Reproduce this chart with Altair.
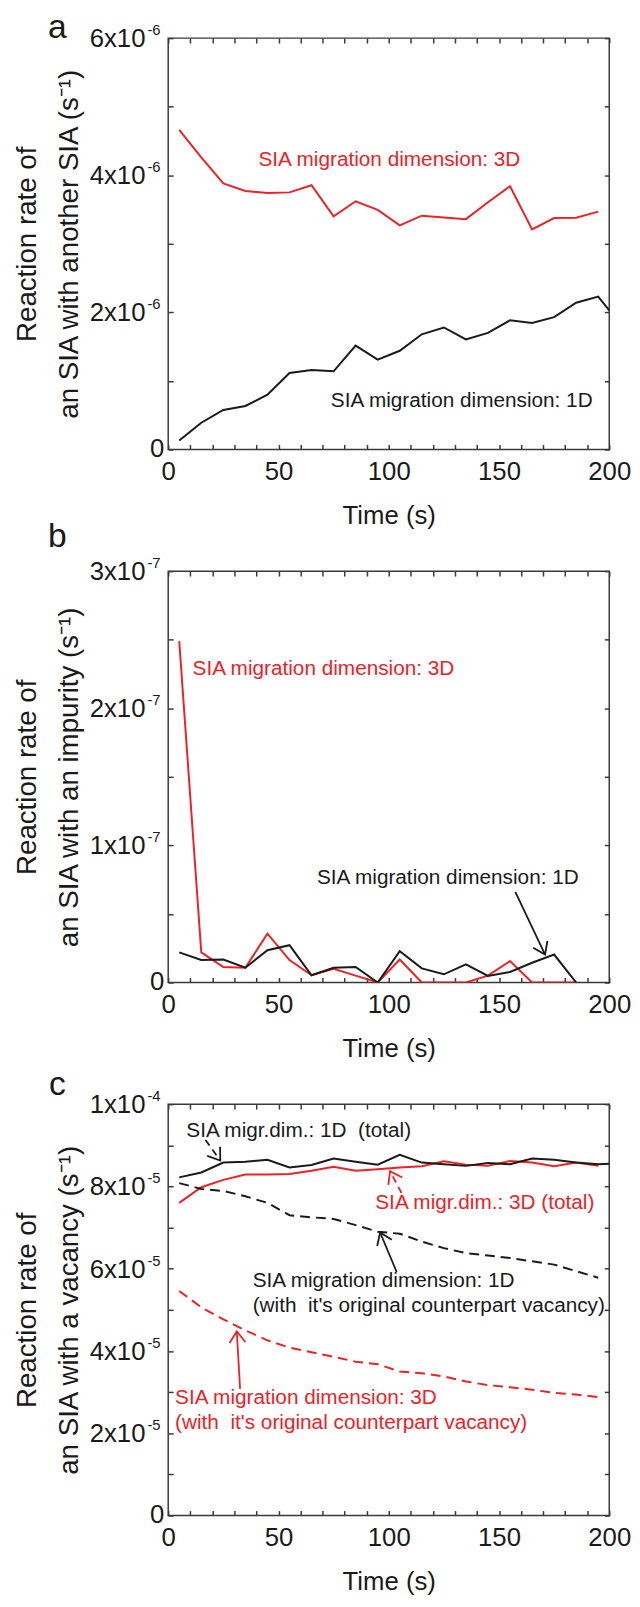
import math
import altair as alt
import pandas as pd

FONT = "Liberation Sans"
RED = "#ec2227"
BLACK = "#1a1a1a"
FRAME = "#3a3a3a"
W, H = 446, 416

TIME = [5, 15, 25, 35, 45, 55, 65, 75, 85, 95, 105, 115, 125, 135, 145, 155, 165, 175, 185, 195]
X_TICKS = list(range(0, 201, 10))

# ---------------- panel a (x 1e-6 s^-1) ----------------
A_UNIT = 1e-6
A_TIME_3D = TIME
A_RATE_3D = [4.66, 4.26, 3.88, 3.77, 3.74, 3.75, 3.855, 3.40, 3.62, 3.495, 3.27, 3.41,
             3.385, 3.36, 3.605, 3.84, 3.21, 3.375, 3.38, 3.47]
A_TIME_1D = TIME + [200]
A_RATE_1D = [0.13, 0.39, 0.577, 0.635, 0.80, 1.115, 1.16, 1.14, 1.515, 1.31, 1.44, 1.68,
             1.78, 1.605, 1.70, 1.885, 1.845, 1.93, 2.14, 2.23, 2.03]
A_YTICKS = [0, 1, 2, 3, 4, 5, 6]
A_YMAJOR = [0, 2, 4, 6]
A_YLAB = ["0", "2x10", "4x10", "6x10"]
A_YEXP = ["", "-6", "-6", "-6"]

# ---------------- panel b (x 1e-7 s^-1) ----------------
B_UNIT = 1e-7
B_TIME = TIME[:19]
B_RATE_3D = [2.49, 0.22, 0.113, 0.108, 0.356, 0.164, 0.053, 0.10, 0.05, 0.0, 0.168, 0.0,
             0.0, 0.0, 0.05, 0.156, 0.0, 0.0, 0.0]
B_RATE_1D = [0.22, 0.164, 0.168, 0.108, 0.236, 0.272, 0.053, 0.108, 0.113, 0.0, 0.229, 0.103,
             0.06, 0.132, 0.048, 0.077, 0.144, 0.204, 0.0]
B_YTICKS = [0, 0.5, 1, 1.5, 2, 2.5, 3]
B_YMAJOR = [0, 1, 2, 3]
B_YLAB = ["0", "1x10", "2x10", "3x10"]
B_YEXP = ["", "-7", "-7", "-7"]

# ---------------- panel c (x 1e-5 s^-1) ----------------
C_UNIT = 1e-5
C_TIME_TOTAL = TIME + [200]
C_RATE_1D_TOTAL = [8.22, 8.34, 8.58, 8.6, 8.65, 8.46, 8.52, 8.68, 8.6, 8.53, 8.77, 8.58,
                   8.54, 8.5, 8.57, 8.54, 8.68, 8.65, 8.58, 8.54, 8.55]
C_RATE_3D_TOTAL = [7.6, 7.98, 8.16, 8.29, 8.29, 8.3, 8.38, 8.48, 8.38, 8.42, 8.46, 8.49,
                   8.61, 8.53, 8.5, 8.62, 8.58, 8.49, 8.58, 8.5]
C_RATE_1D_ORIG = [8.08, 7.94, 7.89, 7.76, 7.6, 7.3, 7.25, 7.21, 7.06, 6.9, 6.85, 6.66,
                  6.5, 6.38, 6.32, 6.26, 6.18, 6.1, 5.94, 5.78]
C_RATE_3D_ORIG = [5.46, 5.06, 4.77, 4.5, 4.26, 4.08, 3.97, 3.86, 3.74, 3.68, 3.5, 3.46,
                  3.38, 3.26, 3.17, 3.12, 3.06, 2.98, 2.94, 2.88]
C_YTICKS = [0, 1, 2, 3, 4, 5, 6, 7, 8, 9, 10]
C_YMAJOR = [0, 2, 4, 6, 8, 10]
C_YLAB = ["0", "2x10", "4x10", "6x10", "8x10", "1x10"]
C_YEXP = ["", "-5", "-5", "-5", "-5", "-4"]

NB = "\u00a0"
HEAD = "M -0.7 1 L 0 0 L 0.7 1"


def axes(ticks_y, unit, ytitle):
    tick = dict(tickSize=5, offset=-5, domain=False, grid=False, tickColor=FRAME, tickWidth=1.5)
    xb = alt.Axis(values=X_TICKS, labelExpr="datum.value % 50 == 0 ? datum.label : ''",
                  format="d", labelFontSize=26, labelFont=FONT, labelColor=BLACK,
                  labelPadding=9, labelFlush=False, labelOverlap=False,
                  title="Time (s)", titleFont=FONT, titleFontSize=26, titleFontWeight="normal",
                  titleColor=BLACK, titleY=80, titleBaseline="alphabetic", **tick)
    xt = alt.Axis(orient="top", values=X_TICKS, labels=False, title=None, **tick)
    yv = [t * unit for t in ticks_y]
    yl = alt.Axis(values=yv, labels=False, title=ytitle, titleFont=FONT, titleFontSize=28,
                  titleFontWeight="normal", titleColor=BLACK, titleAngle=270,
                  titleAlign="center", titleBaseline="middle", titleLineHeight=42,
                  titleX=-147, titleY=H / 2, **tick)
    yr = alt.Axis(orient="right", values=yv, labels=False, title=None, **tick)
    return xb, xt, yl, yr


def line(times, vals, unit, color, xs, ys, xaxis=None, yaxis=None, dash=None):
    df = pd.DataFrame({"t": times, "v": [v * unit for v in vals]})
    kw = dict(color=color, strokeWidth=2, clip=True)
    if dash:
        kw["strokeDash"] = dash
    return alt.Chart(df).mark_line(**kw).encode(
        x=alt.X("t:Q", scale=xs, axis=xaxis), y=alt.Y("v:Q", scale=ys, axis=yaxis))


def note(text, t, v, color, align, xs, ys):
    df = pd.DataFrame({"t": [t], "v": [v], "s": [text]})
    return alt.Chart(df).mark_text(font=FONT, fontSize=21, color=color, align=align,
                                   baseline="alphabetic", lineBreak="\n", lineHeight=25.5).encode(
        x=alt.X("t:Q", scale=xs, axis=None), y=alt.Y("v:Q", scale=ys, axis=None), text="s:N")


def arrow(t0, v0, t1, v1, ymax, color, xs, ys, dashed=False):
    df = pd.DataFrame({"t0": [t0], "v0": [v0], "t1": [t1], "v1": [v1]})
    kw = dict(color=color, strokeWidth=1.8)
    if dashed:
        kw["strokeDash"] = [7, 5]
    shaft = alt.Chart(df).mark_rule(**kw).encode(
        x=alt.X("t0:Q", scale=xs, axis=None), y=alt.Y("v0:Q", scale=ys, axis=None),
        x2="t1:Q", y2="v1:Q")
    dx = (t1 - t0) * W / 200.0
    dy = -(v1 - v0) * H / ymax
    ang = math.degrees(math.atan2(dx, -dy)) % 360
    head = alt.Chart(df).mark_point(shape=HEAD, size=520, filled=False, strokeWidth=1.8,
                                    color=color, opacity=1, angle=ang).encode(
        x=alt.X("t1:Q", scale=xs, axis=None), y=alt.Y("v1:Q", scale=ys, axis=None))
    return [shaft, head]


def ylabels(major, labs, exps, unit, ys):
    df = pd.DataFrame({"v": [m * unit for m in major], "m": labs, "e": exps})
    y = alt.Y("v:Q", scale=ys, axis=None)
    main = alt.Chart(df).transform_filter("datum.e != ''").mark_text(
        font=FONT, fontSize=26, color=BLACK, align="right", baseline="middle", dy=1).encode(
        x=alt.value(-23), y=y, text="m:N")
    zero = alt.Chart(df).transform_filter("datum.e == ''").mark_text(
        font=FONT, fontSize=26, color=BLACK, align="right", baseline="middle", dy=0).encode(
        x=alt.value(-4), y=y, text="m:N")
    sup = alt.Chart(df).transform_filter("datum.e != ''").mark_text(
        font=FONT, fontSize=15, color=BLACK, align="left", baseline="alphabetic", dy=-3).encode(
        x=alt.value(-21), y=y, text="e:N")
    return [main, zero, sup]


def letter(ch, dy):
    df = pd.DataFrame({"s": [ch]})
    return alt.Chart(df).mark_text(font=FONT, fontSize=34, color=BLACK, align="center",
                                   baseline="alphabetic").encode(
        x=alt.value(-112), y=alt.value(dy), text="s:N")


def scales(ymax):
    return (alt.Scale(domain=[0, 200], nice=False, zero=False),
            alt.Scale(domain=[0, ymax], nice=False, zero=True))


# ---------- panel a ----------
ymax = 6 * A_UNIT
xs, ys = scales(ymax)
xb, xt, yl, yr = axes(A_YTICKS, A_UNIT, ["Reaction rate of", "an SIA with another SIA (s\u207b\u00b9)"])
anchor = alt.Chart(pd.DataFrame({"k": [0]})).mark_rule(opacity=0, strokeWidth=0).encode(
    x=alt.value(-161), x2=alt.value(-161), y=alt.value(-20), y2=alt.value(-20))
layers_a = [
    line(A_TIME_3D, A_RATE_3D, A_UNIT, RED, xs, ys, xb, yl),
    line(A_TIME_1D, A_RATE_1D, A_UNIT, BLACK, xs, ys, xt, yr),
    note("SIA migration dimension: 3D", 100.3, 4.14e-6, RED, "center", xs, ys),
    note("SIA migration dimension: 1D", 133.1, 0.62e-6, BLACK, "center", xs, ys),
    *ylabels(A_YMAJOR, A_YLAB, A_YEXP, A_UNIT, ys),
    letter("a", -0.5),
    anchor,
]
panel_a = alt.layer(*layers_a).resolve_axis(x="independent", y="independent").properties(width=W, height=H)

# ---------- panel b ----------
ymax = 3 * B_UNIT
xs, ys = scales(ymax)
xb, xt, yl, yr = axes(B_YTICKS, B_UNIT, ["Reaction rate of", "an SIA with an impurity (s\u207b\u00b9)"])
layers_b = [
    line(B_TIME, B_RATE_3D, B_UNIT, RED, xs, ys, xb, yl),
    line(B_TIME, B_RATE_1D, B_UNIT, BLACK, xs, ys, xt, yr),
    note("SIA migration dimension: 3D", 70.4, 2.24e-7, RED, "center", xs, ys),
    note("SIA migration dimension: 1D", 126.8, 0.716e-7, BLACK, "center", xs, ys),
    *arrow(157.4, 0.661e-7, 170.9, 0.204e-7, ymax, BLACK, xs, ys),
    *ylabels(B_YMAJOR, B_YLAB, B_YEXP, B_UNIT, ys),
    letter("b", -24),
]
panel_b = alt.layer(*layers_b).resolve_axis(x="independent", y="independent").properties(width=W, height=H)

# ---------- panel c ----------
ymax = 10 * C_UNIT
xs, ys = scales(ymax)
xb, xt, yl, yr = axes(C_YTICKS, C_UNIT, ["Reaction rate of", "an SIA with a vacancy (s\u207b\u00b9)"])
layers_c = [
    line(TIME, C_RATE_3D_TOTAL, C_UNIT, RED, xs, ys, xb, yl),
    line(C_TIME_TOTAL, C_RATE_1D_TOTAL, C_UNIT, BLACK, xs, ys, xt, yr),
    line(TIME, C_RATE_1D_ORIG, C_UNIT, BLACK, xs, ys, dash=[10, 6]),
    line(TIME, C_RATE_3D_ORIG, C_UNIT, RED, xs, ys, dash=[10, 6]),
    note("SIA migr.dim.: 1D" + NB + " (total)", 8.2, 9.19e-5, BLACK, "left", xs, ys),
    note("SIA migr.dim.: 3D (total)", 93.9, 7.44e-5, RED, "left", xs, ys),
    note("SIA migration dimension: 1D\n(with" + NB + " it's original counterpart vacancy)",
         38.3, 5.56e-5, BLACK, "left", xs, ys),
    note("SIA migration dimension: 3D\n(with" + NB + " it's original counterpart vacancy)",
         3.1, 2.72e-5, RED, "left", xs, ys),
    *arrow(16.9, 9.13e-5, 23.6, 8.63e-5, ymax, BLACK, xs, ys, dashed=True),
    *arrow(105.8, 7.84e-5, 100.6, 8.37e-5, ymax, RED, xs, ys, dashed=True),
    *arrow(103.6, 5.92e-5, 96.1, 6.88e-5, ymax, BLACK, xs, ys),
    *arrow(32.6, 3.08e-5, 31.1, 4.48e-5, ymax, RED, xs, ys),
    *ylabels(C_YMAJOR, C_YLAB, C_YEXP, C_UNIT, ys),
    letter("c", -9),
]
panel_c = alt.layer(*layers_c).resolve_axis(x="independent", y="independent").properties(width=W, height=H)

chart = alt.vconcat(panel_a, panel_b, panel_c, spacing=123, bounds="flush").properties(
    padding={"left": 0, "top": -7.5, "right": 0, "bottom": 0}
).configure(font=FONT).configure_view(stroke=FRAME, strokeWidth=1.5)

chart.save("out.html", embed_options={"renderer": "svg", "actions": False})
